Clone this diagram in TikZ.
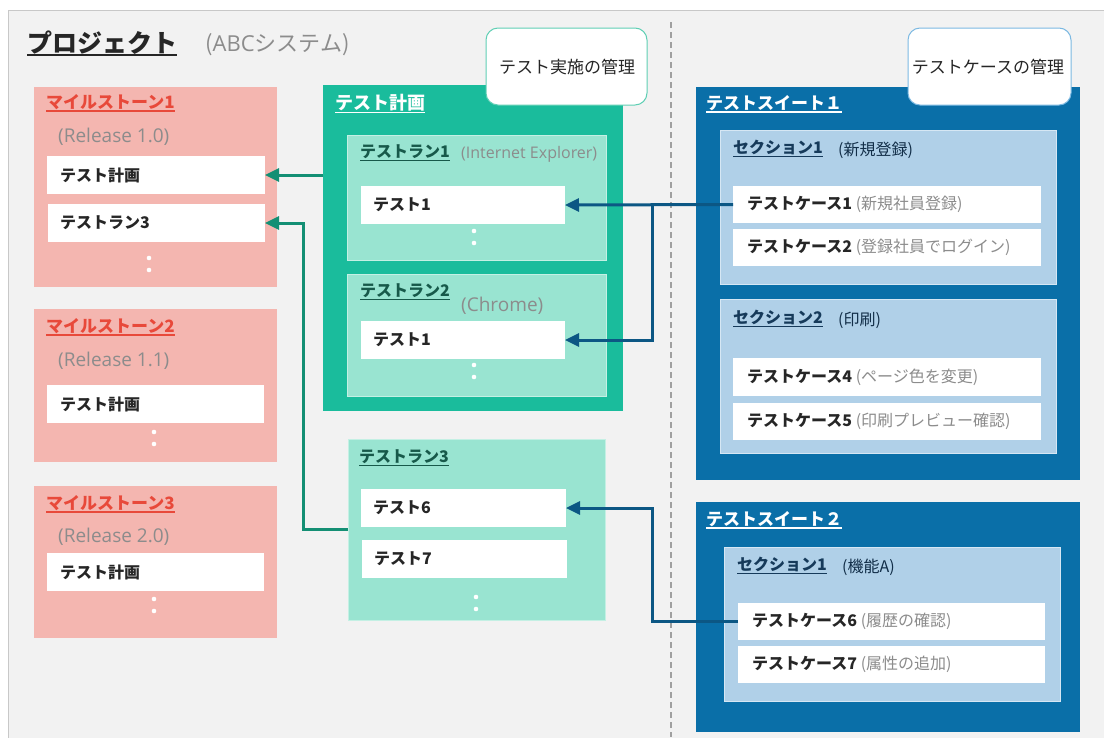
\documentclass[tikz,border=0pt]{standalone}
\usepackage{fontspec}
\setmainfont{Noto Sans CJK JP}
\newfontfamily\latinf{Open Sans}
\usetikzlibrary{arrows.meta}
\definecolor{bgc}{HTML}{F2F2F2}
\definecolor{framec}{HTML}{C8C8C8}
\definecolor{pinkc}{HTML}{F4B6B0}
\definecolor{redc}{HTML}{E8493A}
\definecolor{greenc}{HTML}{1ABC9C}
\definecolor{lgreenc}{HTML}{99E4D1}
\definecolor{lgreenb}{HTML}{C4F0E4}
\definecolor{dgreent}{HTML}{17594A}
\definecolor{bluec}{HTML}{0A6FA8}
\definecolor{lbluec}{HTML}{B0D0E8}
\definecolor{lblueb}{HTML}{D6E7F4}
\definecolor{navyt}{HTML}{163A5A}
\definecolor{darkt}{HTML}{262626}
\definecolor{grayt}{HTML}{8C8C8C}
\definecolor{garc}{HTML}{148F74}
\definecolor{barc}{HTML}{0C5784}
\definecolor{dashc}{HTML}{A0A0A0}
\definecolor{callgb}{HTML}{5FCFB4}
\definecolor{callbb}{HTML}{7CB9E2}
\newcommand\fs[1]{\fontsize{#1}{#1}\selectfont}
\newcommand\ulin[1]{\setbox0\hbox{#1}\rlap{\rule[-3.5pt]{\wd0}{1.5pt}}\box0}
\tikzset{
  bx/.style={anchor=north west, inner sep=0pt, outer sep=0pt},
  pinkbox/.style={bx, fill=pinkc},
  planbox/.style={bx, fill=greenc},
  runbox/.style={bx, fill=lgreenc, draw=lgreenb, line width=1pt},
  suitebox/.style={bx, fill=bluec},
  secbox/.style={bx, fill=lbluec, draw=lblueb, line width=1pt},
  wbox/.style={bx, fill=white},
  callout/.style={bx, fill=white, line width=1pt, rounded corners=12pt},
  ttl/.style={anchor=west, inner sep=0pt, font=\bfseries\fs{16}},
  sub/.style={anchor=west, inner sep=0pt, font=\latinf\fs{19}, text=grayt},
  lbl/.style={anchor=west, inner sep=0pt, font=\bfseries\fs{16}, text=darkt},
  calltxt/.style={inner sep=0pt, font=\fs{17}, text=darkt},
  garrow/.style={draw=garc, line width=3pt, -{Triangle[length=14pt,width=13pt]}},
  barrow/.style={draw=barc, line width=3pt, -{Triangle[length=14pt,width=13pt]}},
  dotw/.style={fill=white}
}
\begin{document}
\begin{tikzpicture}[x=1pt,y=-1pt]
\useasboundingbox (0,0) rectangle (1104,737);
\fill[white] (0,0) rectangle (1104,737);
\draw[fill=bgc, draw=framec, line width=1.2pt] (8.5,10.5) rectangle (1130,760);

% title
\node[anchor=west, inner sep=0pt, font=\bfseries\fs{25}, text=darkt] (proj) at (27,43) {\ulin{プロジェクト}};
\node[anchor=west, inner sep=0pt, font=\fs{22}, text=grayt] (projsub) at (205,45) {({\latinf ABC}システム)};

% milestones
\node[pinkbox, minimum width=243pt, minimum height=200pt] (M1) at (34,87) {};
\node[ttl, text=redc, font=\bfseries\fs{17}] (m1t) at (46,103) {\ulin{マイルストーン1}};
\node[sub] (m1r) at (58,137) {(Release 1.0)};
\node[wbox, minimum width=218pt, minimum height=38pt] (m1a) at (47,156) {};
\node[lbl] (m1al) at ([xshift=13pt]m1a.west) {テスト計画};
\node[wbox, minimum width=217pt, minimum height=38pt] (m1b) at (48,204) {};
\node[lbl] (m1bl) at ([xshift=12pt]m1b.west) {テストラン3};
\fill[dotw] (149,258) circle[radius=2.3pt] (149,270) circle[radius=2.3pt];

\node[pinkbox, minimum width=243pt, minimum height=153pt] (M2) at (34,309) {};
\node[ttl, text=redc, font=\bfseries\fs{17}] (m2t) at (46,327) {\ulin{マイルストーン2}};
\node[sub] (m2r) at (58,361) {(Release 1.1)};
\node[wbox, minimum width=217pt, minimum height=38pt] (m2a) at (47,385) {};
\node[lbl] (m2al) at ([xshift=13pt]m2a.west) {テスト計画};
\fill[dotw] (154,432) circle[radius=2.3pt] (154,444) circle[radius=2.3pt];

\node[pinkbox, minimum width=243pt, minimum height=152pt] (M3) at (34,486) {};
\node[ttl, text=redc, font=\bfseries\fs{17}] (m3t) at (46,504) {\ulin{マイルストーン3}};
\node[sub] (m3r) at (58,537) {(Release 2.0)};
\node[wbox, minimum width=217pt, minimum height=38pt] (m3a) at (47,553) {};
\node[lbl] (m3al) at ([xshift=13pt]m3a.west) {テスト計画};
\fill[dotw] (154,599) circle[radius=2.3pt] (154,611) circle[radius=2.3pt];

% test plan
\node[planbox, minimum width=300pt, minimum height=326pt] (TP) at (323,85) {};
\node[ttl, text=white, font=\bfseries\fs{18}] (tpt) at (335,104) {\ulin{テスト計画}};

\node[runbox, minimum width=259pt, minimum height=125pt] (TR1) at (347,135) {};
\node[ttl, text=dgreent] (tr1t) at (360,153) {\ulin{テストラン1}};
\node[sub, font=\latinf\fs{16}] (tr1s) at (461,154) {(Internet Explorer)};
\node[wbox, minimum width=204pt, minimum height=38pt] (t11) at (361,186) {};
\node[lbl] (t11l) at ([xshift=12pt]t11.west) {テスト1};
\fill[dotw] (474,231) circle[radius=2.3pt] (474,243) circle[radius=2.3pt];

\node[runbox, minimum width=259pt, minimum height=122pt] (TR2) at (347,274) {};
\node[ttl, text=dgreent] (tr2t) at (360,292) {\ulin{テストラン2}};
\node[sub] (tr2s) at (461,306) {(Chrome)};
\node[wbox, minimum width=204pt, minimum height=38pt] (t21) at (361,321) {};
\node[lbl] (t21l) at ([xshift=12pt]t21.west) {テスト1};
\fill[dotw] (474,365) circle[radius=2.3pt] (474,377) circle[radius=2.3pt];

\node[runbox, minimum width=257pt, minimum height=181pt] (TR3) at (348,439) {};
\node[ttl, text=dgreent] (tr3t) at (359,458) {\ulin{テストラン3}};
\node[wbox, minimum width=205pt, minimum height=38pt] (t6) at (361,489) {};
\node[lbl] (t6l) at ([xshift=12pt]t6.west) {テスト6};
\node[wbox, minimum width=205pt, minimum height=38pt] (t7) at (362,540) {};
\node[lbl] (t7l) at ([xshift=12pt]t7.west) {テスト7};
\fill[dotw] (476,597) circle[radius=2.3pt] (476,609) circle[radius=2.3pt];

\node[callout, draw=callgb, minimum width=161pt, minimum height=77pt] (C1) at (486,28) {};
\node[calltxt] (c1t) at (567,67) {テスト実施の管理};

% divider
\draw[dashc, line width=2pt, dash pattern=on 6pt off 4pt] (671,22) -- (671,737);

% suites
\node[suitebox, minimum width=384pt, minimum height=393pt] (S1) at (696,87) {};
\node[ttl, text=white, font=\bfseries\fs{17}] (s1t) at (706,104) {\ulin{テストスイート１}};

\node[secbox, minimum width=336pt, minimum height=154pt] (SC1) at (720,130) {};
\node[ttl, text=navyt] (sc1t) at (733,149) {\ulin{セクション1}};
\node[anchor=west, inner sep=0pt, font=\fs{16}, text=navyt!80!black] (sc1s) at (838,150) {(新規登録)};
\node[wbox, minimum width=308pt, minimum height=37pt] (tc1) at (733,186) {};
\node[lbl] (tc1l) at ([xshift=14pt]tc1.west) {テストケース1 {\mdseries\color{grayt}(新規社員登録)}};
\node[wbox, minimum width=308pt, minimum height=37pt] (tc2) at (733,229) {};
\node[lbl] (tc2l) at ([xshift=14pt]tc2.west) {テストケース2 {\mdseries\color{grayt}(登録社員でログイン)}};

\node[secbox, minimum width=336pt, minimum height=154pt] (SC2) at (720,299) {};
\node[ttl, text=navyt] (sc2t) at (733,319) {\ulin{セクション2}};
\node[anchor=west, inner sep=0pt, font=\fs{16}, text=navyt!80!black] (sc2s) at (838,320) {(印刷)};
\node[wbox, minimum width=308pt, minimum height=38pt] (tc4) at (733,358) {};
\node[lbl] (tc4l) at ([xshift=14pt]tc4.west) {テストケース4 {\mdseries\color{grayt}(ページ色を変更)}};
\node[wbox, minimum width=308pt, minimum height=37pt] (tc5) at (733,403) {};
\node[lbl] (tc5l) at ([xshift=14pt]tc5.west) {テストケース5 {\mdseries\color{grayt}(印刷プレビュー確認)}};

\node[callout, draw=callbb, minimum width=163pt, minimum height=77pt] (C2) at (908,28) {};
\node[calltxt] (c2t) at (988,67) {テストケースの管理};

\node[suitebox, minimum width=384pt, minimum height=230pt] (S2) at (696,502) {};
\node[ttl, text=white, font=\bfseries\fs{17}] (s2t) at (706,520) {\ulin{テストスイート２}};
\node[secbox, minimum width=336pt, minimum height=154pt] (SC3) at (724,547) {};
\node[ttl, text=navyt] (sc3t) at (737,566) {\ulin{セクション1}};
\node[anchor=west, inner sep=0pt, font=\fs{16}, text=navyt!80!black] (sc3s) at (842,567) {(機能A)};
\node[wbox, minimum width=307pt, minimum height=37pt] (tc6) at (738,603) {};
\node[lbl] (tc6l) at ([xshift=14pt]tc6.west) {テストケース6 {\mdseries\color{grayt}(履歴の確認)}};
\node[wbox, minimum width=307pt, minimum height=37pt] (tc7) at (738,646) {};
\node[lbl] (tc7l) at ([xshift=14pt]tc7.west) {テストケース7 {\mdseries\color{grayt}(属性の追加)}};

% connectors
\draw[garrow] (TP.west |- m1a.east) -- (m1a.east);
\draw[garrow] (TR3.west) -- ([xshift=-45pt]TR3.west) |- (m1b.east);
\draw[barrow] (tc1.west) -- (t11.east);
\draw[barrow] (tc1.west) -| ([xshift=87pt]t21.east) -- (t21.east);
\draw[barrow] (tc6.west) -| ([xshift=86pt]t6.east) -- (t6.east);
\end{tikzpicture}
\end{document}
